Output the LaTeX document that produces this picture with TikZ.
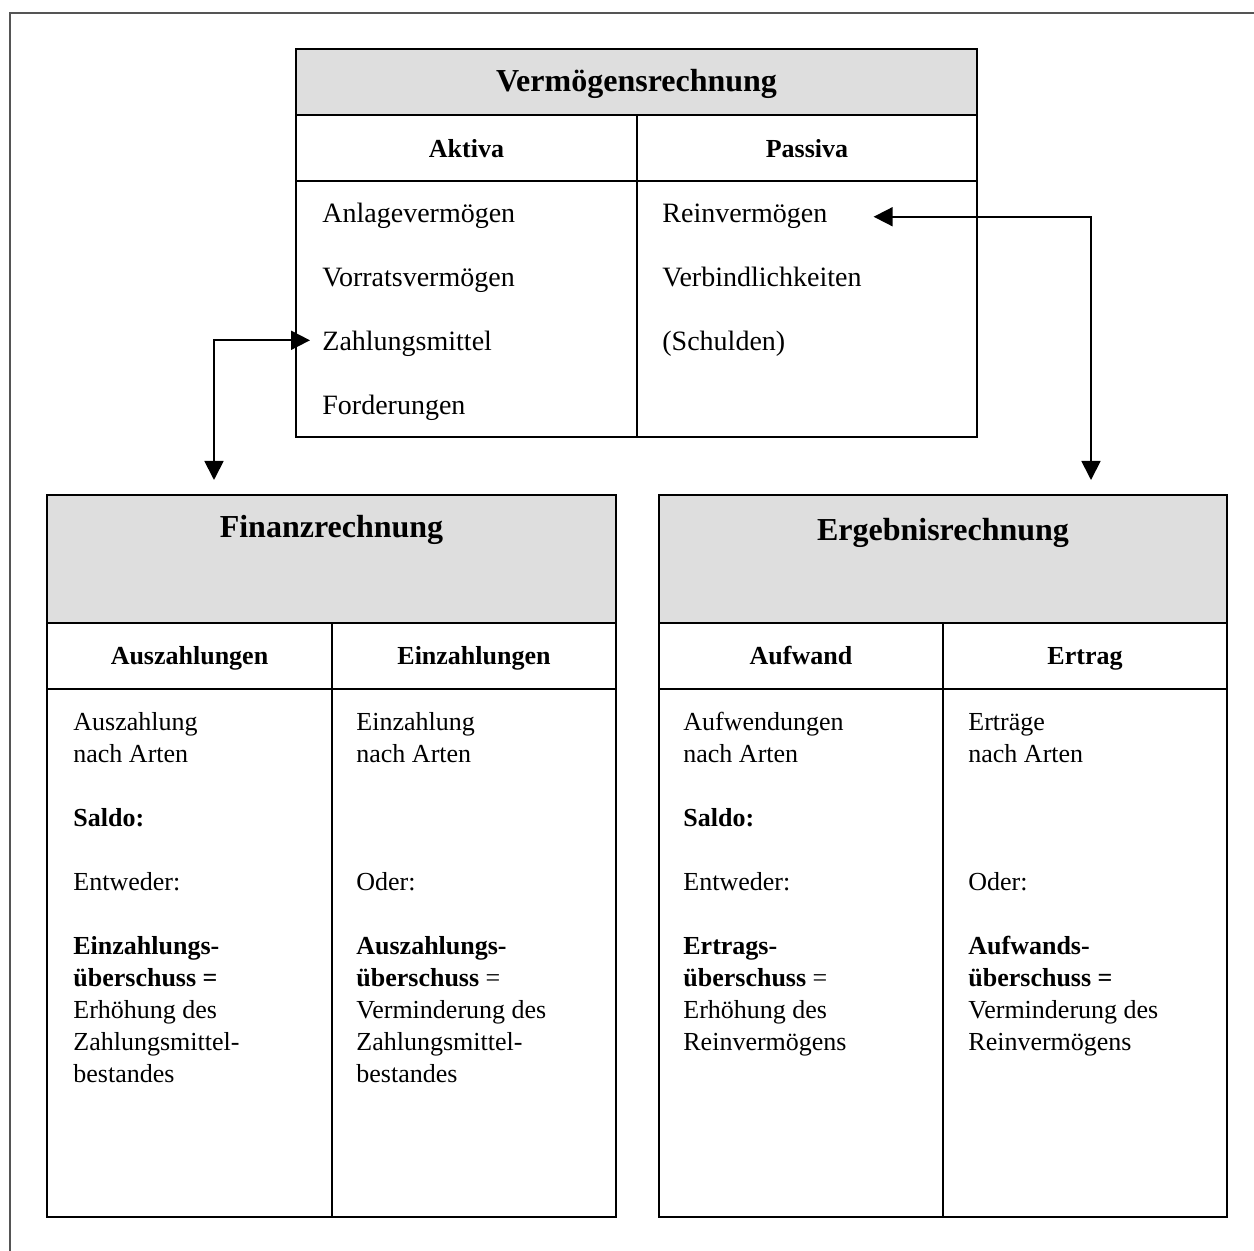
\documentclass[tikz,border=0pt]{standalone}
\usepackage{fontspec}
\setmainfont{Liberation Serif}
\usetikzlibrary{arrows.meta, positioning, calc}
\definecolor{headgray}{HTML}{DEDEDE}
\definecolor{framegray}{HTML}{555555}
\newcommand\bodyx{26}

\begin{document}
\begin{tikzpicture}[x=0.5pt, y=-0.5pt,
    cell/.style={draw, line width=1.2pt},
    title/.style={font=\fontsize{16}{19}\selectfont\bfseries, anchor=base, inner sep=0},
    colhead/.style={font=\fontsize{13}{16}\selectfont\bfseries, anchor=base, inner sep=0},
    item/.style={font=\fontsize{14}{17}\selectfont, anchor=base west, inner sep=0},
    body/.style={font=\fontsize{13}{16}\selectfont, anchor=north west, align=left, inner sep=0},
    biarrow/.style={{Triangle[length=9.5pt,width=9.5pt]}-{Triangle[length=9.5pt,width=9.5pt]}, line width=0.9pt}]
    \useasboundingbox (0, 0) rectangle (1254, 1251);
    \draw[framegray, line width=1pt] (10, 1251) |- (1254, 13);

    %Vermoegensrechnung
    \fill[headgray] (296, 49) rectangle (977, 115);
    \draw[cell] (296, 49) rectangle (977, 437);
    \draw[cell] (296, 115) -- (977, 115);
    \draw[cell] (296, 181) -- (977, 181);
    \draw[cell] (637, 115) -- (637, 437);

    \node at (636.5, 92) [title] (verm) {Vermögensrechnung};
    \node at (466.5, 158) [colhead] (aktiva) {Aktiva};
    \node at (807, 158) [colhead] (passiva) {Passiva};

    \node at (322, 223) [item] (anlage) {Anlagevermögen};
    \node at (322, 287) [item] (vorrat) {Vorratsvermögen};
    \node at (322, 351) [item] (zahl) {Zahlungsmittel};
    \node at (322, 415) [item] (ford) {Forderungen};
    \node at (662, 223) [item] (rein) {Reinvermögen};
    \node at (662, 287) [item] (verb) {Verbindlichkeiten};
    \node at (662, 351) [item] (schuld) {(Schulden)};

    %Finanzrechnung
    \fill[headgray] (47, 495) rectangle (616, 623);
    \draw[cell] (47, 495) rectangle (616, 1217);
    \draw[cell] (47, 623) -- (616, 623);
    \draw[cell] (47, 689) -- (616, 689);
    \draw[cell] (332, 623) -- (332, 1217);

    \node at (331.5, 538) [title] (fin) {Finanzrechnung};
    \node at (189.5, 665) [colhead] (ausz) {Auszahlungen};
    \node at (474, 665) [colhead] (einz) {Einzahlungen};

    \node at (47 + \bodyx, 712) [body] (ausz_txt) {Auszahlung\\nach Arten\\[16pt]\textbf{Saldo:}\\[16pt]Entweder:\\[16pt]\textbf{Einzahlungs-}\\\textbf{überschuss =}\\Erhöhung des\\Zahlungsmittel-\\bestandes};
    \node at (332 + 24, 712) [body] (einz_txt) {Einzahlung\\nach Arten\\[48pt]Oder:\\[16pt]\textbf{Auszahlungs-}\\\textbf{überschuss} =\\Verminderung des\\Zahlungsmittel-\\bestandes};

    %Ergebnisrechnung
    \fill[headgray] (659, 495) rectangle (1227, 623);
    \draw[cell] (659, 495) rectangle (1227, 1217);
    \draw[cell] (659, 623) -- (1227, 623);
    \draw[cell] (659, 689) -- (1227, 689);
    \draw[cell] (943, 623) -- (943, 1217);

    \node at (943, 541) [title] (erg) {Ergebnisrechnung};
    \node at (801, 665) [colhead] (aufw) {Aufwand};
    \node at (1085, 665) [colhead] (ertr) {Ertrag};

    \node at (659 + 24, 712) [body] (aufw_txt) {Aufwendungen\\nach Arten\\[16pt]\textbf{Saldo:}\\[16pt]Entweder:\\[16pt]\textbf{Ertrags-}\\\textbf{überschuss} =\\Erhöhung des\\Reinvermögens};
    \node at (943 + 25, 713.5) [body] (ertr_txt) {Erträge\\nach Arten\\[48pt]Oder:\\[16pt]\textbf{Aufwands-}\\\textbf{überschuss =}\\Verminderung des\\Reinvermögens};

    % arrows
    \coordinate (fin_in) at (214, 480);
    \coordinate (erg_in) at (1091, 480);
    \draw[biarrow] ([shift={(-6pt,2pt)}]zahl.west) -| (fin_in);
    \draw[biarrow] ([xshift=23pt]rein.east) -| (erg_in);
\end{tikzpicture}
\end{document}
